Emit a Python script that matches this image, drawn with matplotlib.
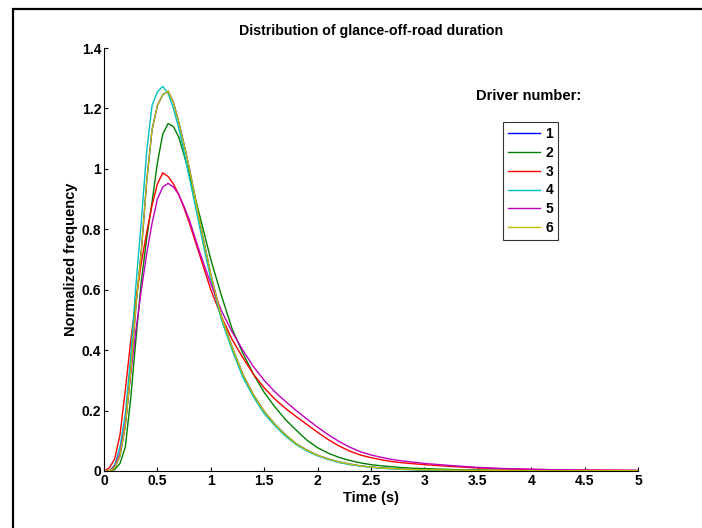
import matplotlib
matplotlib.use('Agg')
import matplotlib.pyplot as plt
from matplotlib.patches import Rectangle
from matplotlib.ticker import FuncFormatter

plt.rcParams['font.family'] = ['Liberation Sans', 'DejaVu Sans']
plt.rcParams['font.weight'] = 'bold'

# Time grid (s)
t = [0, 0.05, 0.1, 0.15, 0.2, 0.25, 0.3, 0.35, 0.4, 0.45, 0.5, 0.55, 0.6, 0.65, 0.7,
     0.75, 0.8, 0.85, 0.9, 0.95, 1.0,
     1.1, 1.2, 1.3, 1.4, 1.5, 1.6, 1.7, 1.8, 1.9, 2.0,
     2.1, 2.2, 2.3, 2.4, 2.5, 2.6, 2.7, 2.8, 2.9, 3.0,
     3.25, 3.5, 3.75, 4.0, 4.25, 4.5, 4.75, 5.0]

# Normalized frequency per driver
d6 = [0, 0, 0.01, 0.05, 0.15, 0.33, 0.55, 0.73, 0.96, 1.13, 1.21, 1.245, 1.257, 1.22, 1.155,
      1.08, 1.0, 0.91, 0.82, 0.735, 0.65,
      0.51, 0.41, 0.32, 0.252, 0.197, 0.155, 0.12, 0.09, 0.069, 0.052,
      0.04, 0.03, 0.023, 0.017, 0.013, 0.01, 0.008, 0.006, 0.005, 0.004,
      0.003, 0.002, 0.0015, 0.001, 0.001, 0.001, 0.001, 0.001]
d1 = list(d6)  # driver 1 lies under driver 6
d2 = [0, 0, 0.005, 0.025, 0.08, 0.24, 0.44, 0.63, 0.77, 0.89, 1.02, 1.115, 1.15, 1.14, 1.105,
      1.045, 0.98, 0.91, 0.84, 0.77, 0.70,
      0.58, 0.47, 0.39, 0.32, 0.26, 0.212, 0.17, 0.135, 0.102, 0.077,
      0.059, 0.045, 0.035, 0.027, 0.021, 0.017, 0.014, 0.011, 0.009, 0.008,
      0.005, 0.003, 0.002, 0.0015, 0.001, 0.001, 0.001, 0.001]
d3 = [0, 0.01, 0.04, 0.12, 0.27, 0.43, 0.57, 0.69, 0.79, 0.88, 0.95, 0.987, 0.975, 0.95, 0.915,
      0.87, 0.82, 0.765, 0.71, 0.655, 0.60,
      0.51, 0.435, 0.375, 0.32, 0.275, 0.238, 0.207, 0.18, 0.154, 0.128,
      0.104, 0.083, 0.066, 0.053, 0.044, 0.037, 0.031, 0.027, 0.024, 0.021,
      0.015, 0.01, 0.007, 0.005, 0.004, 0.003, 0.0025, 0.002]
d4 = [0, 0, 0.02, 0.08, 0.19, 0.38, 0.62, 0.83, 1.06, 1.21, 1.255, 1.273, 1.25, 1.2, 1.135,
      1.055, 0.97, 0.885, 0.80, 0.715, 0.635,
      0.50, 0.40, 0.31, 0.245, 0.19, 0.15, 0.115, 0.087, 0.066, 0.05,
      0.038, 0.028, 0.021, 0.016, 0.012, 0.009, 0.007, 0.005, 0.004, 0.003,
      0.002, 0.001, 0.001, 0.0005, 0, 0, 0, 0]
d5 = [0, 0, 0.015, 0.06, 0.16, 0.32, 0.47, 0.60, 0.72, 0.82, 0.90, 0.94, 0.952, 0.94, 0.915,
      0.875, 0.83, 0.775, 0.72, 0.67, 0.62,
      0.53, 0.46, 0.40, 0.345, 0.30, 0.262, 0.23, 0.2, 0.172, 0.145,
      0.12, 0.098, 0.079, 0.064, 0.053, 0.045, 0.038, 0.033, 0.029, 0.025,
      0.018, 0.012, 0.008, 0.006, 0.004, 0.003, 0.0025, 0.002]

drivers = ['1', '2', '3', '4', '5', '6']
series = [d1, d2, d3, d4, d5, d6]
colors = [(0, 0, 1), (0, 0.5, 0), (1, 0, 0), (0, 0.75, 0.75), (0.75, 0, 0.75), (0.75, 0.75, 0)]

fig = plt.figure(figsize=(7.02, 5.28), dpi=100)
ax = fig.add_axes([104 / 702, 57 / 528, 534 / 702, 423 / 528])

for lab, vals, c in zip(drivers, series, colors):
    ax.plot(t, vals, color=c, lw=1.0, label=lab)

ax.set_xlim(0, 5)
ax.set_ylim(0, 1.4)
ax.set_xticks([0, 0.5, 1, 1.5, 2, 2.5, 3, 3.5, 4, 4.5, 5])
ax.set_yticks([0, 0.2, 0.4, 0.6, 0.8, 1.0, 1.2, 1.4])
ax.xaxis.set_major_formatter(FuncFormatter(lambda v, p: '%g' % v))
ax.yaxis.set_major_formatter(FuncFormatter(lambda v, p: '%g' % v))
ax.tick_params(direction='in', length=3, width=0.8, labelsize=10, pad=2)
for lbl in ax.get_xticklabels() + ax.get_yticklabels():
    lbl.set_fontweight('bold')
ax.spines['top'].set_visible(False)
ax.spines['right'].set_visible(False)
ax.spines['left'].set_linewidth(0.8)
ax.spines['bottom'].set_linewidth(0.8)

ax.set_xlabel('Time (s)', fontsize=10.5, fontweight='bold', labelpad=2)
ax.set_ylabel('Normalized frequency', fontsize=10.5, fontweight='bold', labelpad=3)
ax.set_title('Distribution of glance-off-road duration', fontsize=10.2, fontweight='bold', pad=9)

fig.text(529 / 702, 1 - 96 / 528, 'Driver number:', ha='center', va='center',
         fontsize=10.5, fontweight='bold')
leg = ax.legend(loc='upper left', bbox_to_anchor=(503 / 702, 1 - 122 / 528),
                bbox_transform=fig.transFigure, fontsize=10, frameon=True,
                fancybox=False, handlelength=2.3, handletextpad=0.4,
                labelspacing=0.35, borderpad=0.35, borderaxespad=0)
leg.get_frame().set_edgecolor('black')
leg.get_frame().set_linewidth(0.8)
for txt in leg.get_texts():
    txt.set_fontweight('bold')

# outer frame
fig.add_artist(Rectangle((13 / 702, -0.2), 1.0, 1.2 - 9 / 528, transform=fig.transFigure,
                         fill=False, edgecolor='black', lw=1.6))

fig.savefig('out.png', dpi=100)
